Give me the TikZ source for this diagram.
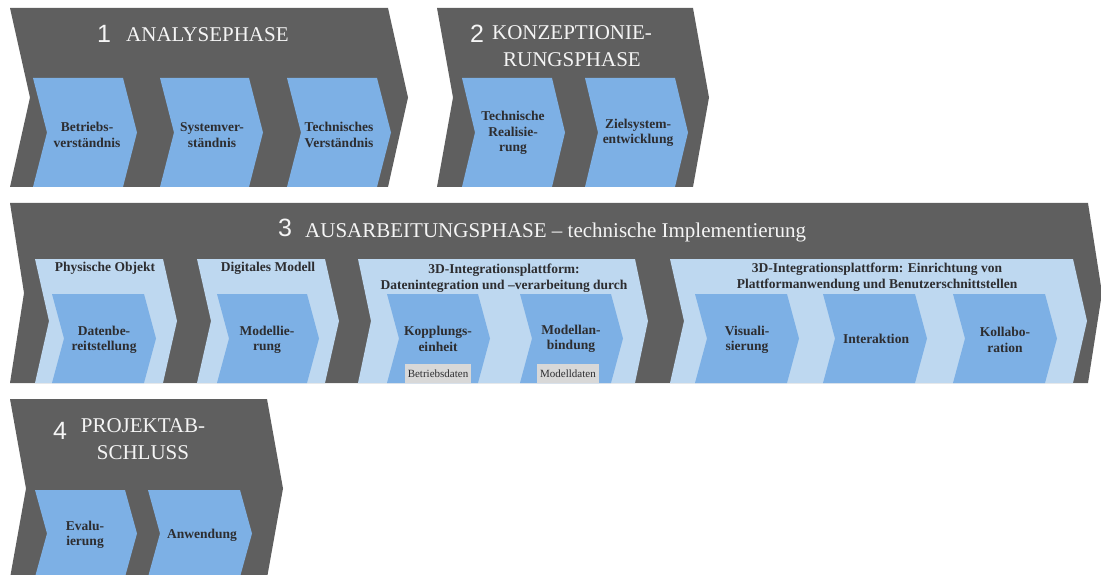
\documentclass[tikz,border=0pt]{standalone}
\usepackage{fontspec}
\setmainfont{Liberation Serif}
\newfontfamily\numfont{Liberation Sans}

\definecolor{phasegrey}{RGB}{95,95,95}
\definecolor{stepblue}{RGB}{125,176,229}
\definecolor{groupblue}{RGB}{190,216,240}
\definecolor{tagfill}{RGB}{216,216,216}
\definecolor{labeltext}{RGB}{45,45,48}
\definecolor{headtext}{RGB}{245,245,245}

% chevron: style, left x, right x (top edge), top y, bottom y, point depth
\newcommand{\chevronpath}[6]{%
  \fill[#1] (#2,#4) -- (#3,#4) -- ({#3+#6},{(#4+#5)/2}) -- (#3,#5)
    -- (#2,#5) -- ({#2+#6},{(#4+#5)/2}) -- cycle;}

\tikzset{
  phase/.style={fill=phasegrey},
  group/.style={fill=groupblue},
  stepfill/.style={fill=stepblue},
  lbl/.style={text=labeltext, font=\bfseries\fontsize{13.5}{15.5}\selectfont,
    align=center, inner sep=0pt},
  grouplbl/.style={lbl},
  headlbl/.style={text=headtext, font=\fontsize{21}{27}\selectfont,
    align=center, inner sep=0pt},
  numlbl/.style={text=headtext, font=\numfont\fontsize{25}{25}\selectfont,
    inner sep=0pt},
  tag/.style={fill=tagfill, text=labeltext, font=\fontsize{11}{11}\selectfont,
    inner xsep=3pt, inner ysep=0pt, minimum height=19pt, anchor=south},
}

\begin{document}
\begin{tikzpicture}[x=1pt, y=-1pt]
\useasboundingbox (0,0) rectangle (1101,575);
\clip (0,0) rectangle (1101,575);

% ---- phase bands
\chevronpath{phase}{10}{388}{8}{187}{20}
\chevronpath{phase}{437}{693}{8}{187}{16}
\chevronpath{phase}{10}{1088}{203}{383}{14}
\chevronpath{phase}{10}{267}{399}{578}{16}

% ---- phase 1 steps
\chevronpath{stepfill}{33}{123}{78}{187}{14}
\chevronpath{stepfill}{160}{249}{78}{187}{14}
\chevronpath{stepfill}{287}{377}{78}{187}{14}

% ---- phase 2 steps
\chevronpath{stepfill}{462}{552}{78}{187}{13}
\chevronpath{stepfill}{585}{675}{78}{187}{13}

% ---- phase 3 groups
\chevronpath{group}{35}{163}{259}{383}{14}
\chevronpath{group}{197}{325}{259}{383}{14}
\chevronpath{group}{358}{635}{259}{383}{13}
\chevronpath{group}{670}{1073}{259}{383}{14}

% ---- phase 3 steps
\chevronpath{stepfill}{52}{144}{294}{383}{12}
\chevronpath{stepfill}{217}{307}{294}{383}{12}
\chevronpath{stepfill}{387}{478}{294}{383}{12}
\chevronpath{stepfill}{520}{611}{294}{383}{12}
\chevronpath{stepfill}{695}{787}{294}{383}{12}
\chevronpath{stepfill}{823}{915}{294}{383}{12}
\chevronpath{stepfill}{953}{1045}{294}{383}{12}

% ---- phase 4 steps
\chevronpath{stepfill}{35}{125}{490}{577}{12}
\chevronpath{stepfill}{148}{240}{490}{577}{12}

% ---- phase headings (multi-line: anchor on the last line's baseline)
\node[numlbl] (n1) at (104,34) {1};
\node[headlbl, anchor=base west] (h1) at (126,42) {ANALYSEPHASE};
\node[numlbl] (n2) at (477,34) {2};
\node[headlbl, anchor=base] (h2) at (572,67) {KONZEPTIONIE-\\RUNGSPHASE};
\node[numlbl] (n3) at (285,228) {3};
\node[headlbl, anchor=base west] (h3) at (305,237)
  {AUSARBEITUNGSPHASE -- technische Implementierung};
\node[numlbl] (n4) at (60,431) {4};
\node[headlbl, anchor=base] (h4) at (143,459) {PROJEKTAB-\\SCHLUSS};

% ---- phase 1 labels
\node[lbl] (s11) at (87,135) {Betriebs-\\verständnis};
\node[lbl] (s12) at (212,135) {Systemver-\\ständnis};
\node[lbl] (s13) at (339,135) {Technisches\\Verständnis};

% ---- phase 2 labels
\node[lbl] (s21) at (513,133) {Technische\\Realisie-\\rung};
\node[lbl] (s22) at (638,133) {Zielsystem-\\entwicklung};

% ---- phase 3 group labels
\node[grouplbl] (g1) at (105,268) {Physische Objekt};
\node[grouplbl] (g2) at (268,268) {Digitales Modell};
\node[grouplbl] (g3) at (504,278)
  {3D-Integrationsplattform:\\Datenintegration und –verarbeitung durch};
\node[grouplbl] (g4) at (877,277)
  {3D-Integrationsplattform: Einrichtung von\\Plattformanwendung und Benutzerschnittstellen};

% ---- phase 3 step labels
\node[lbl] (s31) at (104,340) {Datenbe-\\reitstellung};
\node[lbl] (s32) at (267,340) {Modellie-\\rung};
\node[lbl] (s33) at (438,339) {Kopplungs-\\einheit};
\node[lbl] (s34) at (571,339) {Modellan-\\bindung};
\node[lbl] (s35) at (747,340) {Visuali-\\sierung};
\node[lbl] (s36) at (876,339) {Interaktion};
\node[lbl] (s37) at (1005,340) {Kollabo-\\ration};

% ---- data tags
\node[tag] (t1) at (438,383) {Betriebsdaten};
\node[tag] (t2) at (568,383) {Modelldaten};

% ---- phase 4 labels
\node[lbl] (s41) at (85,535) {Evalu-\\ierung};
\node[lbl] (s42) at (202,535) {Anwendung};
\end{tikzpicture}
\end{document}
